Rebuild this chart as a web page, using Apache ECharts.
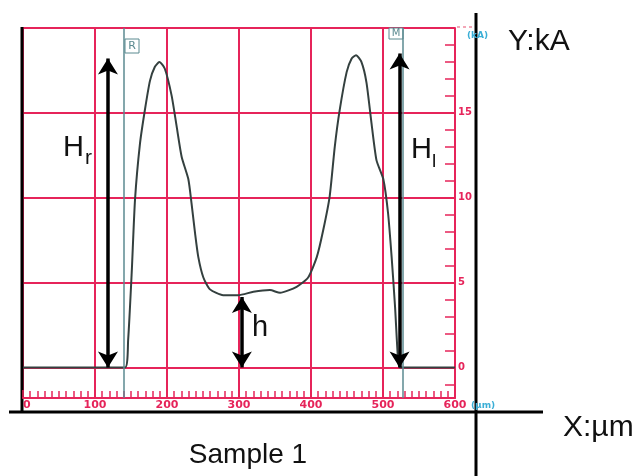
<!DOCTYPE html>
<html>
<head>
<meta charset="utf-8">
<script src="https://cdn.jsdelivr.net/npm/echarts@6/dist/echarts.min.js"></script>
<style>
html,body{margin:0;padding:0;background:#fff;}
#main{width:637px;height:476px;}
</style>
</head>
<body>
<div id="main"></div>
<script>
// 曲线 X:µm, Y:kA
var curveX = [0, 141.7, 146, 151, 155.6, 162.5, 169.4, 176.4, 183, 189.4, 197, 206.5, 213.4, 220.4, 229.6, 234, 239, 243.5, 250.5, 259.7, 278, 299, 320, 343, 357, 380, 396, 408, 417, 426, 433, 440, 449.5, 456.5, 462.5, 470, 477, 484, 491, 500.4, 507, 512, 516.7, 521, 523.6, 600];
var curveY = [0, 0, 1.6, 5.6, 9.9, 13.2, 15.2, 16.9, 17.7, 18.0, 17.6, 16.0, 14.2, 12.4, 11.1, 9.7, 7.9, 6.5, 5.3, 4.6, 4.26, 4.26, 4.46, 4.56, 4.4, 4.75, 5.3, 6.5, 8.1, 10.1, 13, 15.2, 17.4, 18.2, 18.4, 18.0, 16.8, 14.4, 12.2, 11.1, 9.1, 6.5, 3.6, 0.4, 0, 0];

// 坐标轴
var yMin = -1.8, yMax = 20;
var yGrid = [0, 5, 10, 15, 20];
var yLabels = [0, 5, 10, 15];
var yMinor = [-1, 0, 1, 2, 3, 4, 5, 6, 7, 8, 9, 10, 11, 12, 13, 14, 15, 16, 17, 18, 19];

// 标记线 R / M
var markerX = [140, 528];

// 高度箭头 Hr, h, Hl
var arrowX = [118, 304, 523];
var arrowTop = [18.2, 4.15, 18.5];

var red = '#e6245a';
var cyan = '#3aaed6';

var curve = [];
for (var i = 0; i < curveX.length; i++) {
  curve.push([curveX[i], curveY[i]]);
}
var markerLines = [];
for (var i = 0; i < markerX.length; i++) {
  markerLines.push({xAxis: markerX[i]});
}
var arrowLines = [];
for (var i = 0; i < arrowX.length; i++) {
  arrowLines.push([{coord: [arrowX[i], 0]}, {coord: [arrowX[i], arrowTop[i]]}]);
}

var chart = echarts.init(document.getElementById('main'));
var option = {
  animation: false,
  backgroundColor: '#fff',
  grid: {left: 23, top: 28, width: 432, height: 370},
  xAxis: {
    type: 'value', min: 0, max: 600, interval: 100,
    axisLine: {show: true, onZero: false, lineStyle: {color: red, width: 2}},
    axisTick: {show: true, inside: true, length: 8, lineStyle: {color: red, width: 1.5}},
    minorTick: {show: true, splitNumber: 10, length: 7, lineStyle: {color: red, width: 1.5}},
    axisLabel: {color: red, fontSize: 11, fontWeight: 'bold', fontFamily: 'DejaVu Sans', margin: 2, alignMinLabel: 'left'},
    splitLine: {show: true, lineStyle: {color: red, width: 2}}
  },
  yAxis: [{
    type: 'value', position: 'right', min: yMin, max: yMax,
    axisLine: {show: true, onZero: false, lineStyle: {color: red, width: 2}},
    axisTick: {show: false, customValues: yGrid},
    axisLabel: {customValues: yLabels, color: red, fontSize: 10, fontWeight: 'bold', fontFamily: 'DejaVu Sans', margin: 3},
    splitLine: {show: true, lineStyle: {color: red, width: 2}}
  }, {
    type: 'value', position: 'right', min: yMin, max: yMax,
    axisLine: {show: false, onZero: false},
    axisTick: {show: true, inside: true, length: 10, customValues: yMinor, lineStyle: {color: red, width: 1.5}},
    axisLabel: {show: false},
    splitLine: {show: false}
  }],
  series: [{
    type: 'line', data: curve, smooth: 0.2, showSymbol: false, z: 3,
    lineStyle: {color: '#34403f', width: 2},
    markLine: {
      silent: true, symbol: ['none', 'none'], label: {show: false},
      lineStyle: {color: '#5b8a90', width: 1.5, type: 'solid'},
      data: markerLines
    }
  }, {
    type: 'line', data: [], z: 4,
    markLine: {
      silent: true, symbol: ['arrow', 'arrow'], symbolSize: [15, 16], label: {show: false},
      lineStyle: {color: '#000', width: 3.5, type: 'solid', opacity: 1},
      itemStyle: {color: '#000'},
      data: arrowLines
    }
  }]
};
chart.setOption(option);

// 文字和外框
var big = 'Liberation Sans';
chart.setOption({
  graphic: [
    {type: 'line', shape: {x1: 22, y1: 27, x2: 22, y2: 413}, style: {stroke: '#000', lineWidth: 3}},
    {type: 'line', shape: {x1: 9, y1: 412, x2: 543, y2: 412}, style: {stroke: '#000', lineWidth: 3}},
    {type: 'line', shape: {x1: 476, y1: 13, x2: 476, y2: 476}, style: {stroke: '#000', lineWidth: 3}},
    {type: 'line', shape: {x1: 457, y1: 27, x2: 472, y2: 27}, style: {stroke: '#f08aa0', lineWidth: 1.5, lineDash: [3, 3]}},
    {type: 'rect', shape: {x: 125, y: 39, width: 14, height: 14}, style: {fill: '#fff', stroke: '#5b8a90', lineWidth: 1}},
    {type: 'text', style: {x: 132, y: 46.5, text: 'R', fill: '#5b8a90', font: '11px "DejaVu Sans"', textAlign: 'center', textVerticalAlign: 'middle'}},
    {type: 'rect', shape: {x: 389, y: 28, width: 14, height: 11}, style: {fill: '#fff', stroke: '#5b8a90', lineWidth: 1}},
    {type: 'text', style: {x: 396, y: 33.5, text: 'M', fill: '#5b8a90', font: '10px "DejaVu Sans"', textAlign: 'center', textVerticalAlign: 'middle'}},
    {type: 'text', style: {x: 467, y: 36, text: '(kA)', fill: cyan, font: 'bold 9px "DejaVu Sans"', textVerticalAlign: 'middle'}},
    {type: 'text', style: {x: 471, y: 406, text: '(µm)', fill: cyan, font: 'bold 9px "DejaVu Sans"', textVerticalAlign: 'middle'}},
    {type: 'text', style: {x: 63, y: 148, text: 'H', fill: '#111', font: '29px "' + big + '"', textVerticalAlign: 'middle'}},
    {type: 'text', style: {x: 85, y: 158, text: 'r', fill: '#111', font: '21px "' + big + '"', textVerticalAlign: 'middle'}},
    {type: 'text', style: {x: 411, y: 150, text: 'H', fill: '#111', font: '29px "' + big + '"', textVerticalAlign: 'middle'}},
    {type: 'text', style: {x: 432, y: 162, text: 'l', fill: '#111', font: '19px "' + big + '"', textVerticalAlign: 'middle'}},
    {type: 'text', style: {x: 252, y: 328, text: 'h', fill: '#111', font: '29px "' + big + '"', textVerticalAlign: 'middle'}},
    {type: 'text', style: {x: 508, y: 42, text: 'Y:kA', fill: '#111', font: '30px "' + big + '"', textVerticalAlign: 'middle'}},
    {type: 'text', style: {x: 563, y: 428, text: 'X:µm', fill: '#111', font: '30px "' + big + '"', textVerticalAlign: 'middle'}},
    {type: 'text', style: {x: 248, y: 455, text: 'Sample 1', fill: '#111', font: '28px "' + big + '"', textAlign: 'center', textVerticalAlign: 'middle'}}
  ]
});
</script>
</body>
</html>
